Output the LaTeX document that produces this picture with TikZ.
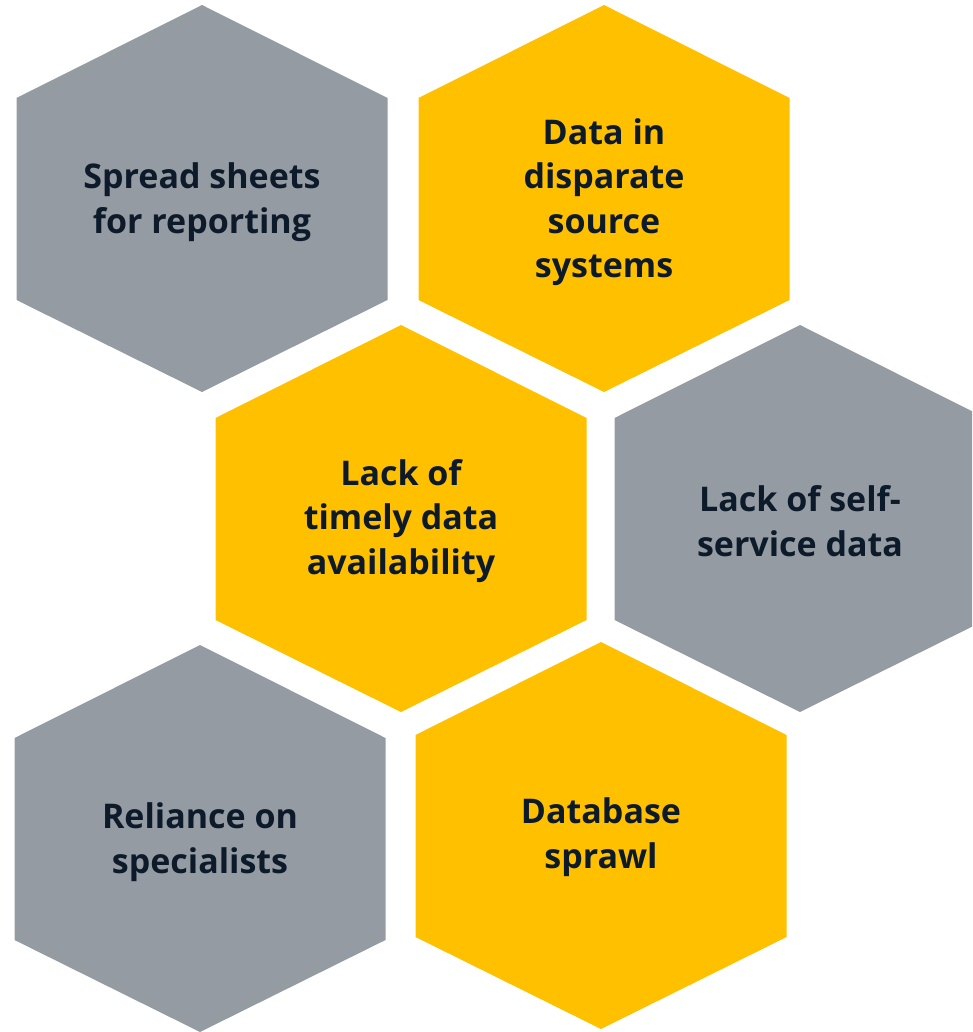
\documentclass[tikz,border=0pt]{standalone}
\usepackage{fontspec}
\setmainfont{Open Sans}
\definecolor{hexgray}{HTML}{959BA3}
\definecolor{hexyellow}{HTML}{FFC000}
\definecolor{txtnavy}{HTML}{0C1A2A}
\tikzset{
  hexlabel/.style={font=\fontsize{34}{44.5}\selectfont\bfseries, text=txtnavy, align=center, inner sep=0pt},
}
\newcommand{\hexat}[4]{% cx, top, color, name
  \fill[#3] (#1,-#2) -- (#1+185.5,-#2-93) -- (#1+185.5,-#2-295) -- (#1,-#2-387) -- (#1-185.5,-#2-295) -- (#1-185.5,-#2-93) -- cycle;
}
\begin{document}
\begin{tikzpicture}[x=1pt,y=1pt]
\useasboundingbox (0,0) rectangle (972,-1032);
\clip (0,0) rectangle (972,-1032);
\hexat{202}{5}{hexgray}{h1}
\hexat{604}{5}{hexyellow}{h2}
\hexat{401}{325}{hexyellow}{h3}
\hexat{800}{325}{hexgray}{h4}
\hexat{200}{645}{hexgray}{h5}
\hexat{601}{642}{hexyellow}{h6}
\node[hexlabel] (t1) at (202,-202) {Spread sheets\\for reporting};
\node[hexlabel] (t2) at (604,-202) {Data in\\disparate\\source\\systems};
\node[hexlabel] (t3) at (401,-521) {Lack of\\timely data\\availability};
\node[hexlabel] (t4) at (800,-521) {Lack of self-\\service data};
\node[hexlabel] (t5) at (200,-842) {Reliance on\\specialists};
\node[hexlabel] (t6) at (601,-837) {Database\\sprawl};
\end{tikzpicture}
\end{document}
